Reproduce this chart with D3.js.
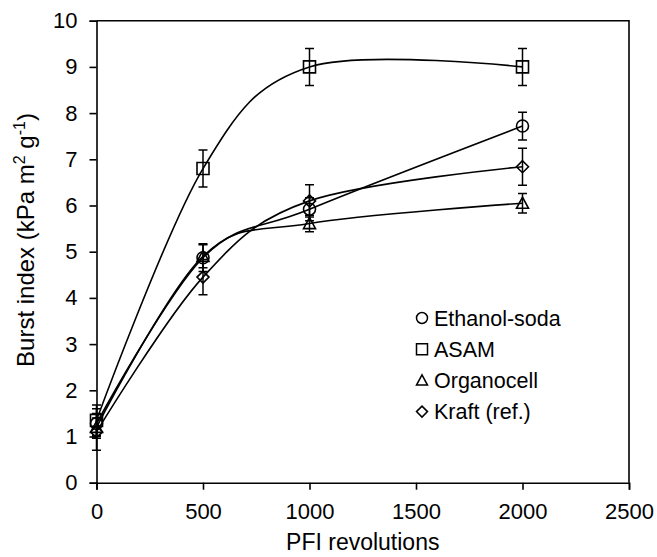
<!DOCTYPE html>
<html>
<head>
<meta charset="utf-8">
<script src="https://cdn.jsdelivr.net/npm/d3@7"></script>
<style>
    body { margin: 0; background: #fff; }
    text { font-family: "Liberation Sans", Arial, sans-serif; fill: #000; }
</style>
</head>
<body>
<div id="chart"></div>
<script>

// PFI revolutions where each pulp was measured
const revolutions = [0, 500, 1000, 2000];

// burst index values (kPa m2 g-1) and their error bars
const ethanolSoda    = [1.28, 4.87, 5.92, 7.72];
const ethanolSodaErr = [0.32, 0.30, 0.25, 0.30];
const asam           = [1.35, 6.80, 9.00, 9.00];
const asamErr        = [0.33, 0.40, 0.40, 0.40];
const organocell     = [1.20, 4.90, 5.61, 6.05];
const organocellErr  = [0.20, 0.25, 0.18, 0.21];
const kraft          = [1.10, 4.45, 6.10, 6.84];
const kraftErr       = [0.40, 0.38, 0.35, 0.40];

const seriesNames = ["Ethanol-soda", "ASAM", "Organocell", "Kraft (ref.)"];
const seriesShapes = ["circle", "square", "triangle", "diamond"];

const xTicks = [0, 500, 1000, 1500, 2000, 2500];
const yTicks = [0, 1, 2, 3, 4, 5, 6, 7, 8, 9, 10];

const chart = {
    width: 657,
    height: 557,
    left: 96.5,
    right: 629,
    top: 20.7,
    bottom: 482.7
}

const series = [
    { name: seriesNames[0], shape: seriesShapes[0], y: ethanolSoda, err: ethanolSodaErr },
    { name: seriesNames[1], shape: seriesShapes[1], y: asam, err: asamErr },
    { name: seriesNames[2], shape: seriesShapes[2], y: organocell, err: organocellErr },
    { name: seriesNames[3], shape: seriesShapes[3], y: kraft, err: kraftErr }
].map(s => ({
    name: s.name,
    shape: s.shape,
    points: revolutions.map((x, i) => ({ x: x, y: s.y[i], e: s.err[i] }))
}));

const xScale = d3.scaleLinear()
    .domain([0, 2500])
    .range([chart.left, chart.right])

const yScale = d3.scaleLinear()
    .domain([0, 10])
    .range([chart.bottom, chart.top])

const svg = d3.select("#chart")
    .append("svg")
    .attr("width", chart.width)
    .attr("height", chart.height)

// marker path for each shape, centred on 0,0
function markerPath(shape, s) {
    const p = d3.path();
    if (shape === "circle") {
        p.moveTo(s, 0);
        p.arc(0, 0, s, 0, 2 * Math.PI);
    } else if (shape === "square") {
        p.rect(-s, -s, 2 * s, 2 * s);
    } else if (shape === "triangle") {
        p.moveTo(0, -s);
        p.lineTo(s, s * 0.85);
        p.lineTo(-s, s * 0.85);
        p.closePath();
    } else {
        p.moveTo(0, -s);
        p.lineTo(s, 0);
        p.lineTo(0, s);
        p.lineTo(-s, 0);
        p.closePath();
    }
    return p.toString();
}

// axes
const xAxis = g => g.attr("transform", `translate(0, ${chart.bottom})`)
    .call(d3.axisBottom(xScale).tickValues(xTicks).tickSize(7).tickPadding(14).tickFormat(d3.format("d")))

const yAxis = g => g.attr("transform", `translate(${chart.left}, 0)`)
    .call(d3.axisLeft(yScale).tickValues(yTicks).tickSize(7).tickPadding(12))

svg.append("g").call(xAxis)
svg.append("g").call(yAxis)

svg.selectAll(".domain, .tick line")
    .attr("stroke", "#000")
    .attr("stroke-width", 1.6)

svg.selectAll(".tick text")
    .style("font-size", "22px")
    .style("font-family", "'Liberation Sans', Arial, sans-serif")
    .attr("fill", "#000")

// top and right border of the frame
svg.append("path")
    .attr("d", `M${chart.left},${chart.top}H${chart.right}V${chart.bottom}`)
    .attr("fill", "none")
    .attr("stroke", "#000")
    .attr("stroke-width", 1.6)

// smoothed lines through the points
const line = d3.line()
    .x(d => xScale(d.x))
    .y(d => yScale(d.y))
    .curve(d3.curveCardinal.tension(0))

svg.selectAll(".curve")
    .data(series)
    .enter().append("path")
    .attr("class", "curve")
    .attr("d", d => line(d.points))
    .attr("fill", "none")
    .attr("stroke", "#000")
    .attr("stroke-width", 1.6)

// error bars
series.forEach(s => {
    const g = svg.append("g");
    g.selectAll("path")
        .data(s.points)
        .enter().append("path")
        .attr("d", d => {
            const x = xScale(d.x), y0 = yScale(d.y - d.e), y1 = yScale(d.y + d.e);
            return `M${x},${y0}V${y1}M${x - 4.5},${y0}H${x + 4.5}M${x - 4.5},${y1}H${x + 4.5}`;
        })
        .attr("fill", "none")
        .attr("stroke", "#000")
        .attr("stroke-width", 1.5)

    // markers
    g.selectAll(".mark")
        .data(s.points)
        .enter().append("path")
        .attr("class", "mark")
        .attr("transform", d => `translate(${xScale(d.x)},${yScale(d.y)})`)
        .attr("d", markerPath(s.shape, 6))
        .attr("fill", "none")
        .attr("stroke", "#000")
        .attr("stroke-width", 1.6)
})

// legend
const legend = svg.append("g")
    .attr("transform", "translate(422, 318)")

const rows = legend.selectAll("g")
    .data(series)
    .enter().append("g")
    .attr("transform", (d, i) => `translate(0, ${i * 31.2})`)

rows.append("path")
    .attr("d", d => markerPath(d.shape, 5.5))
    .attr("fill", "none")
    .attr("stroke", "#000")
    .attr("stroke-width", 1.5)

rows.append("text")
    .attr("x", 12)
    .attr("y", 7.5)
    .style("font-size", "21.5px")
    .text(d => d.name)

// X axis label
svg.append("text")
    .attr("text-anchor", "middle")
    .attr("x", (chart.left + chart.right) / 2)
    .attr("y", 550)
    .style("font-size", "23px")
    .text("PFI revolutions");

// Y axis label
const yLabel = svg.append("text")
    .attr("text-anchor", "middle")
    .attr("transform", "translate(34, 240) rotate(-90)")
    .style("font-size", "24px")

yLabel.append("tspan").text("Burst index (kPa m")
yLabel.append("tspan").attr("dy", -9).style("font-size", "16px").text("2")
yLabel.append("tspan").attr("dy", 9).text(" g")
yLabel.append("tspan").attr("dy", -9).style("font-size", "16px").text("-1")
yLabel.append("tspan").attr("dy", 9).text(")")

</script>
</body>
</html>
